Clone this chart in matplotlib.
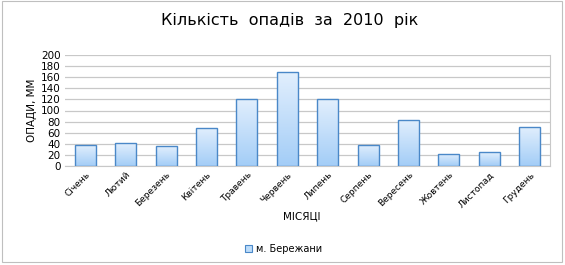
import matplotlib
matplotlib.use("Agg")
import matplotlib.pyplot as plt
import numpy as np
from matplotlib.patches import Rectangle
from matplotlib.colors import LinearSegmentedColormap

months = ["Січень", "Лютий", "Березень", "Квітень", "Травень", "Червень",
          "Липень", "Серпень", "Вересень", "Жовтень", "Листопад", "Грудень"]
precip = [37, 41, 36, 69, 121, 169, 120, 38, 83, 22, 25, 71]
yticks = [0, 20, 40, 60, 80, 100, 120, 140, 160, 180, 200]
series_name = "м. Бережани"

plt.rcParams['font.family'] = ['DejaVu Sans']
fig = plt.figure(figsize=(5.65, 2.65), dpi=100)
ax = fig.add_axes([65/565, 1-166/265, (550-65)/565, (166-55)/265])

x = np.arange(len(months))
bars = ax.bar(x, precip, width=0.52, color='none', edgecolor='#4a88c8', linewidth=1.0, zorder=3)
grad = np.linspace(0, 1, 100).reshape(-1, 1)
cmap = LinearSegmentedColormap.from_list('g', ['#a3cdf7', '#e2effd'])
for b in bars:
    x0, w, h = b.get_x(), b.get_width(), b.get_height()
    im = ax.imshow(grad, cmap=cmap, aspect='auto', origin='lower',
                   extent=[x0, x0 + w, 0, h], zorder=2)
    im.set_clip_path(Rectangle((x0, 0), w, h, transform=ax.transData))

ax.set_xlim(-0.5, len(months) - 0.5)
ax.set_ylim(0, 200)
ax.set_yticks(yticks)
ax.set_yticklabels([str(v) for v in yticks], fontsize=7.5)
ax.set_xticks(x)
ax.set_xticklabels(months, rotation=45, ha='right', rotation_mode='anchor', fontsize=6.5)
ax.tick_params(axis='both', length=0, pad=3)
ax.grid(axis='y', color='#c8c8c8', linewidth=0.9, zorder=0)
for s in ['top', 'left']:
    ax.spines[s].set_visible(False)
ax.spines['right'].set_color('#c8c8c8')
ax.spines['bottom'].set_color('#c8c8c8')
ax.set_ylabel("ОПАДИ, ММ", fontsize=7.5, labelpad=3)

fig.text(290/565, 1-20/265, "Кількість  опадів  за  2010  рік", ha='center', va='center', fontsize=11.5)
fig.text(302/565, 1-216/265, "МІСЯЦІ", ha='center', va='center', fontsize=7.5)

fig.patches.append(Rectangle((245/565, 1-252/265), 7/565, 7/265, transform=fig.transFigure,
                             facecolor='#bcdcfa', edgecolor='#4a88c8', linewidth=0.8))
fig.text(256/565, 1-249/265, series_name, ha='left', va='center', fontsize=7)

fig.patches.append(Rectangle((2/565, 0.01), 560/565, 0.985, transform=fig.transFigure,
                             facecolor='none', edgecolor='#bfbfbf', linewidth=0.8))

fig.savefig("out.png", dpi=100)
